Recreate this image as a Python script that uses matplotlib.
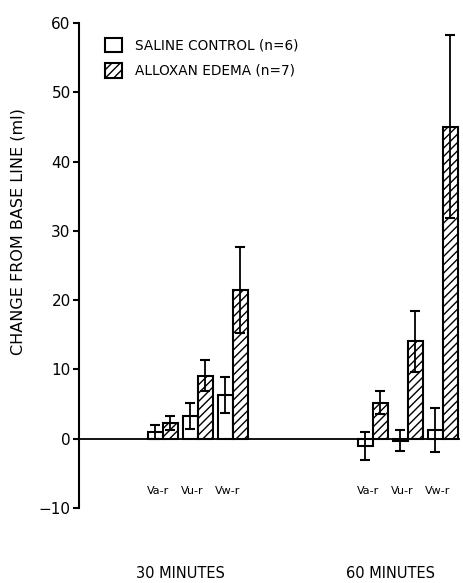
import matplotlib
matplotlib.use("Agg")
import matplotlib.pyplot as plt
from matplotlib.patches import Patch
import matplotlib.transforms as mtransforms

plt.rcParams['font.family'] = ['DejaVu Sans']
plt.rcParams['hatch.linewidth'] = 1.0

# ---- data ----
measures = ["Va-r", "Vu-r", "Vw-r"]
times = ["30 MINUTES", "60 MINUTES"]
series_names = ["SALINE CONTROL (n=6)", "ALLOXAN EDEMA (n=7)"]

saline_30 = [1.0, 3.3, 6.3]
saline_30_err = [1.0, 1.9, 2.6]
alloxan_30 = [2.3, 9.1, 21.4]
alloxan_30_err = [1.0, 2.2, 6.2]

saline_60 = [-1.1, -0.3, 1.3]
saline_60_err = [2.0, 1.5, 3.2]
alloxan_60 = [5.2, 14.1, 45.0]
alloxan_60_err = [1.7, 4.4, 13.2]

yticks = [-10, 0, 10, 20, 30, 40, 50, 60]

# ---- figure ----
fig = plt.figure(figsize=(4.63, 5.83), dpi=100)
ax = fig.add_axes([0.1706, 0.1286, 0.823, 0.832])

width = 0.43
group_offsets = [0, 6]
saline_vals = [saline_30, saline_60]
saline_errs = [saline_30_err, saline_60_err]
allox_vals = [alloxan_30, alloxan_60]
allox_errs = [alloxan_30_err, alloxan_60_err]

err_kw = dict(fmt='none', ecolor='black', elinewidth=1.3, capsize=3.5, capthick=1.5, zorder=5)

for g, off in enumerate(group_offsets):
    centers = [off + i for i in range(len(measures))]
    xs = [c - width / 2 for c in centers]
    xa = [c + width / 2 for c in centers]
    ax.bar(xs, saline_vals[g], width=width, facecolor='white', edgecolor='black',
           linewidth=1.5, zorder=3)
    ax.bar(xa, allox_vals[g], width=width, facecolor='white', edgecolor='black',
           linewidth=1.5, hatch='////', zorder=3)
    ax.errorbar(xs, saline_vals[g], yerr=saline_errs[g], **err_kw)
    ax.errorbar(xa, allox_vals[g], yerr=allox_errs[g], **err_kw)
    for c, m in zip(centers, measures):
        ax.text(c - 0.15, -7.5, m, ha='center', va='center', fontsize=8,
                family='DejaVu Sans Condensed')
    trans = mtransforms.blended_transform_factory(ax.transData, ax.transAxes)
    ax.text(centers[1] - 0.5, -0.134, times[g], transform=trans, ha='center',
            va='center', fontsize=10.5)

ax.axhline(0, color='black', linewidth=1.3, zorder=2)

ax.set_xlim(-2.4, 8.49)
ax.set_ylim(-10, 60)
ax.set_yticks(yticks)
ax.set_yticklabels([str(t).replace('-', '\u2212') for t in yticks], fontsize=11)
ax.set_xticks([])
for s in ['top', 'right', 'bottom']:
    ax.spines[s].set_visible(False)
ax.spines['left'].set_linewidth(1.5)
ax.tick_params(axis='y', direction='out', length=4, width=1.5, pad=2)

fig.text(0.039, 0.602, "CHANGE FROM BASE LINE (ml)", rotation=90, ha='center',
         va='center', fontsize=11.5)

handles = [Patch(facecolor='white', edgecolor='black', linewidth=1.5),
           Patch(facecolor='white', edgecolor='black', linewidth=1.5, hatch='////')]
ax.legend(handles, series_names, loc='upper left', bbox_to_anchor=(0.035, 0.995),
          frameon=False, fontsize=9.8, handlelength=1.3, handleheight=1.3,
          handletextpad=0.9, labelspacing=0.75)

fig.savefig("out.png", dpi=100)
